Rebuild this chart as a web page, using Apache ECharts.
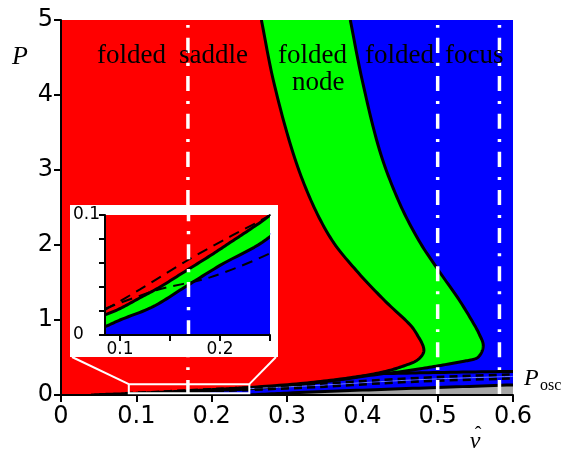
<!DOCTYPE html>
<html>
<head>
<meta charset="utf-8">
<script src="https://cdn.jsdelivr.net/npm/echarts@6/dist/echarts.min.js"></script>
<style>
  html, body { margin: 0; padding: 0; background: #fff; }
  #chart { width: 568px; height: 452px; }
</style>
</head>
<body>
<div id="chart"></div>
<script>
// boundary red / green (folded saddle | folded node)
const saddleNode = [
  [0.266, 5.0], [0.282, 4.19], [0.307, 3.26], [0.332, 2.59], [0.36, 2.06], [0.392, 1.66],
  [0.4295, 1.26], [0.464, 0.93], [0.4747, 0.771], [0.4807, 0.652], [0.4814, 0.572], [0.4761, 0.492],
  [0.4668, 0.432], [0.4375, 0.332], [0.411, 0.273], [0.371, 0.213], [0.318, 0.153], [0.25, 0.1],
  [0.23, 0.088], [0.21, 0.077], [0.19, 0.066], [0.165, 0.053], [0.14, 0.04], [0.12, 0.031],
  [0.1, 0.022], [0.085, 0.0167], [0.06, 0.0085], [0.04, 0]
]
// boundary green / blue (folded node | folded focus)
const nodeFocus = [
  [0.384, 5.0], [0.400, 4.19], [0.423, 3.26], [0.448, 2.59], [0.475, 2.06], [0.504, 1.62],
  [0.529, 1.26], [0.549, 0.93], [0.5557, 0.8], [0.5604, 0.678], [0.5585, 0.572], [0.5519, 0.492],
  [0.535, 0.45], [0.513, 0.41], [0.477, 0.35], [0.451, 0.31], [0.424, 0.28], [0.371, 0.205],
  [0.318, 0.14], [0.25, 0.082], [0.2, 0.058], [0.165, 0.04], [0.133, 0.0236], [0.1, 0.0125],
  [0.085, 0.007], [0.06, 0]
]
const lowerSolid = [[0.43, 0.285], [0.5, 0.3], [0.6, 0.315]]
const oscUpper = [
  [0.085, 0.021], [0.12, 0.038], [0.168, 0.0625], [0.21, 0.082], [0.25, 0.1], [0.35, 0.155],
  [0.424, 0.2], [0.5, 0.24], [0.6, 0.275]
]
const oscLower = [
  [0.085, 0.022], [0.137, 0.0375], [0.19, 0.048], [0.25, 0.068], [0.35, 0.11],
  [0.424, 0.155], [0.5, 0.19], [0.6, 0.22]
]
const oscMid = [[0.25, 0.084], [0.35, 0.133], [0.424, 0.178], [0.5, 0.215], [0.6, 0.248]]
const bottomLine = [[0.25, 0], [0.3, 0.025], [0.4, 0.065], [0.5, 0.1], [0.6, 0.135]]
const dashDotNu = [0.1685, 0.5, 0.582]

const xTicks = [0, 0.1, 0.2, 0.3, 0.4, 0.5, 0.6]
const yTicks = [0, 1, 2, 3, 4, 5]
const insetXTicks = [0.1, 0.15, 0.2, 0.25]
const insetXLabels = [0.1, 0.2]
const insetYTicks = [0, 0.02, 0.04, 0.06, 0.08, 0.1]
const insetYLabels = [0, 0.1]
const zoomBox = { nu: [0.09, 0.25], p: [0.025, 0.145] }

const INSET = { x: 70, y: 205, w: 208, h: 152 }
const tickFont = '"DejaVu Sans", sans-serif'
const serif = '"Liberation Serif", "DejaVu Serif", serif'

// smooth curve through pixel points (chord-length cubic), used for fills and strokes alike
function spline(px) {
  const n = px.length
  if (n < 3) return px
  const d = []
  for (let i = 0; i < n - 1; i++) d.push(Math.hypot(px[i + 1][0] - px[i][0], px[i + 1][1] - px[i][1]) || 1e-6)
  const T = px.map((p, i) => {
    if (i === 0) return [(px[1][0] - p[0]) / d[0], (px[1][1] - p[1]) / d[0]]
    if (i === n - 1) return [(p[0] - px[i - 1][0]) / d[i - 1], (p[1] - px[i - 1][1]) / d[i - 1]]
    const s = d[i - 1] + d[i]
    return [(px[i + 1][0] - px[i - 1][0]) / s, (px[i + 1][1] - px[i - 1][1]) / s]
  })
  const out = [px[0]]
  for (let i = 0; i < n - 1; i++) {
    const p0 = px[i], p3 = px[i + 1]
    const p1 = [p0[0] + T[i][0] * d[i] / 3, p0[1] + T[i][1] * d[i] / 3]
    const p2 = [p3[0] - T[i + 1][0] * d[i] / 3, p3[1] - T[i + 1][1] * d[i] / 3]
    for (let k = 1; k <= 12; k++) {
      const t = k / 12, u = 1 - t
      out.push([
        u * u * u * p0[0] + 3 * u * u * t * p1[0] + 3 * u * t * t * p2[0] + t * t * t * p3[0],
        u * u * u * p0[1] + 3 * u * u * t * p1[1] + 3 * u * t * t * p2[1] + t * t * t * p3[1],
      ])
    }
  }
  return out
}

function area(pts, corners, color, gi, z) {
  return {
    type: 'custom', xAxisIndex: gi, yAxisIndex: gi, z: z, clip: true, silent: true,
    renderItem: function (params, api) {
      const curvePx = spline(pts.map(p => api.coord(p)))
      return { type: 'polygon', shape: { points: curvePx.concat(corners.map(p => api.coord(p))) }, style: { fill: color } }
    },
    data: [pts[0]],
  }
}
function stroke(pts, gi, z, w) {
  return {
    type: 'custom', xAxisIndex: gi, yAxisIndex: gi, z: z, clip: true, silent: true,
    renderItem: function (params, api) {
      return { type: 'polyline', shape: { points: spline(pts.map(p => api.coord(p))) }, style: { fill: null, stroke: '#000', lineWidth: w, lineJoin: 'round' } }
    },
    data: [pts[0]],
  }
}
function curve(pts, gi, z, style) {
  return {
    type: 'line', data: pts, xAxisIndex: gi, yAxisIndex: gi, z: z, clip: true, silent: true,
    symbol: 'none', smooth: 0.3, lineStyle: style, animation: false,
  }
}

function layer(gi, base, w) {
  const full = [[0, 0], [0.6, 0], [0.6, 5]]
  const s = [
    area([[0, 5]], full, '#0000ff', gi, base),
    area(nodeFocus, [[0, 0], [0, 5]], '#00ff00', gi, base + 1),
    area(saddleNode, [[0, 0], [0, 5]], '#ff0000', gi, base + 2),
    area(bottomLine, [[0.6, 0]], '#a6a6a6', gi, base + 2),
    curve(oscMid, gi, base + 3, { color: '#6a7dff', width: 1 }),
    curve(oscUpper, gi, base + 3, { color: '#000', width: w.dash, type: w.dashType }),
    curve(oscLower, gi, base + 3, { color: '#000', width: w.dash, type: w.dashType }),
    stroke(bottomLine, gi, base + 3, w.solid),
    stroke(lowerSolid, gi, base + 3, w.solid),
    stroke(nodeFocus, gi, base + 3, w.solid),
    stroke(saddleNode, gi, base + 3, w.solid),
  ]
  dashDotNu.forEach(v => {
    s.push(curve([[v, 0], [v, 5]], gi, base + 4, { color: '#fff', width: 3.5, type: [15, 10, 3, 10] }))
  })
  return s
}

const series = layer(0, 1, { solid: 3, dash: 2.5, dashType: [8, 5] })
  .concat(layer(1, 20, { solid: 3, dash: 2, dashType: [11, 7] }))

// zoom box and connectors to the inset
series.push({
  type: 'custom', xAxisIndex: 0, yAxisIndex: 0, z: 9, clip: false, silent: true,
  renderItem: function (params, api) {
    const tl = api.coord([zoomBox.nu[0], zoomBox.p[1]])
    const br = api.coord([zoomBox.nu[1], zoomBox.p[0]])
    const st = { stroke: '#fff', lineWidth: 2, fill: null }
    return {
      type: 'group', children: [
        { type: 'rect', shape: { x: tl[0], y: tl[1], width: br[0] - tl[0], height: br[1] - tl[1] }, style: st },
        { type: 'line', shape: { x1: INSET.x + 2, y1: INSET.y + INSET.h, x2: tl[0], y2: tl[1] }, style: st },
        { type: 'line', shape: { x1: INSET.x + INSET.w - 2, y1: INSET.y + INSET.h, x2: br[0], y2: tl[1] }, style: st },
      ]
    }
  },
  data: [[0.1, 0.1]],
})

const chart = echarts.init(document.getElementById('chart'), null, { renderer: 'canvas' })
chart.setOption({
  animation: false,
  grid: [
    { left: 61, right: 55, top: 20, bottom: 57 },
    { left: 105, top: 215, width: 165, height: 120 },
  ],
  xAxis: [
    {
      type: 'value', gridIndex: 0, min: 0, max: 0.6, interval: 0.1, z: 6,
      axisLine: { lineStyle: { color: '#000', width: 2 } },
      axisTick: { length: 7, lineStyle: { color: '#000', width: 2 }, customValues: xTicks },
      axisLabel: {
        customValues: xTicks, color: '#000', fontSize: 24, fontFamily: tickFont, margin: 10,
        formatter: v => String(+(+v).toFixed(2)),
      },
      splitLine: { show: false },
    },
    {
      type: 'value', gridIndex: 1, min: 0.085, max: 0.25, z: 30,
      axisLine: { lineStyle: { color: '#000', width: 2 } },
      axisTick: { length: 6, lineStyle: { color: '#000', width: 2 }, customValues: insetXTicks },
      axisLabel: {
        customValues: insetXLabels, color: '#000', fontSize: 17, fontFamily: tickFont, margin: 6,
        formatter: v => String(+(+v).toFixed(2)),
      },
      splitLine: { show: false },
    },
  ],
  yAxis: [
    {
      type: 'value', gridIndex: 0, min: 0, max: 5, interval: 1, z: 6,
      axisLine: { show: true, lineStyle: { color: '#000', width: 2 } },
      axisTick: { show: true, length: 7, lineStyle: { color: '#000', width: 2 }, customValues: yTicks },
      axisLabel: {
        customValues: yTicks, color: '#000', fontSize: 24, fontFamily: tickFont, margin: 8,
      },
      splitLine: { show: false },
    },
    {
      type: 'value', gridIndex: 1, min: 0, max: 0.1, interval: 0.02, z: 30,
      axisLine: { show: true, lineStyle: { color: '#000', width: 2 } },
      axisTick: { show: true, length: 6, lineStyle: { color: '#000', width: 2 }, customValues: insetYTicks },
      axisLabel: {
        customValues: insetYLabels, color: '#000', fontSize: 17, fontFamily: tickFont,
        margin: 32, align: 'left', formatter: v => String(+(+v).toFixed(2)),
      },
      splitLine: { show: false },
    },
  ],
  graphic: [
    { type: 'rect', z: 10, silent: true, shape: { x: INSET.x, y: INSET.y, width: INSET.w, height: INSET.h }, style: { fill: '#fff' } },
    { type: 'text', z: 8, x: 97, y: 56, style: { text: 'folded', font: '27px ' + serif, fill: '#000', verticalAlign: 'middle' } },
    { type: 'text', z: 8, x: 179, y: 56, style: { text: 'saddle', font: '27px ' + serif, fill: '#000', verticalAlign: 'middle' } },
    { type: 'text', z: 8, x: 278, y: 56, style: { text: 'folded', font: '27px ' + serif, fill: '#000', verticalAlign: 'middle' } },
    { type: 'text', z: 8, x: 292, y: 83, style: { text: 'node', font: '27px ' + serif, fill: '#000', verticalAlign: 'middle' } },
    { type: 'text', z: 8, x: 365, y: 56, style: { text: 'folded', font: '27px ' + serif, fill: '#000', verticalAlign: 'middle' } },
    { type: 'text', z: 8, x: 445, y: 56, style: { text: 'focus', font: '27px ' + serif, fill: '#000', verticalAlign: 'middle' } },
    { type: 'text', z: 8, x: 12, y: 57, style: { text: 'P', font: 'italic 26px ' + serif, fill: '#000', verticalAlign: 'middle' } },
    { type: 'text', z: 8, x: 475, y: 442, style: { text: 'ν', font: 'italic 24px ' + serif, fill: '#000', align: 'center', verticalAlign: 'middle' } },
    { type: 'text', z: 8, x: 478, y: 436, style: { text: '\u02C6', font: '20px ' + serif, fill: '#000', align: 'center', verticalAlign: 'middle' } },
    { type: 'text', z: 8, x: 524, y: 379, style: { text: 'P', font: 'italic 24px ' + serif, fill: '#000', verticalAlign: 'middle' } },
    { type: 'text', z: 8, x: 540, y: 386, style: { text: 'osc', font: '16px ' + serif, fill: '#000', verticalAlign: 'middle' } },
  ],
  series: series,
})
</script>
</body>
</html>
